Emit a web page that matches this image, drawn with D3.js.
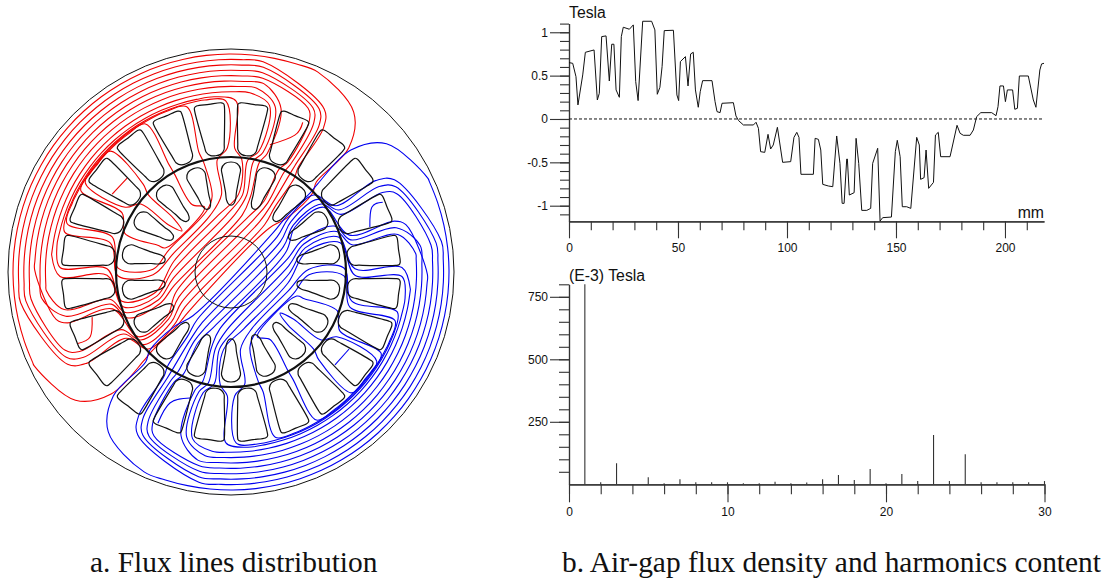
<!DOCTYPE html>
<html>
<head>
<meta charset="utf-8">
<script src="https://cdn.jsdelivr.net/npm/d3@7"></script>
<style>
  body { margin: 0; background: white; }
  svg { display: block; }
  .tick text, .lab { font-family: "Liberation Sans", Arial, sans-serif; fill: #111; }
  .cap { font-family: "Liberation Serif", "Times New Roman", serif; font-size: 29.4px; fill: #111; }
</style>
</head>
<body>
<svg id="graph" width="1114" height="580"></svg>
<script>
// air-gap flux density, mm along the gap / Tesla
const gap_mm = [0,1.7,3.2,4.1,6.3,7.5,11.5,13,13.9,15,17,18.5,19.6,20.6,21.6,23.1,24,24.9,27.7,29.5,30.6,31.7,33.8,37.9,39.4,40.5,41.7,42.7,43.7,47.9,49.5,50.3,51.1,53.4,54.6,55.8,57,58,59.3,60.2,61.3,65.6,67,67.9,69.3,70.2,75.4,76.6,77.8,80,84.6,85.8,86.9,87.9,89.8,91.3,92.5,93.7,95.6,98,101.7,103.2,104.5,105.5,106.4,112.1,112.9,114.4,115.5,116.4,119,121,122.8,124.3,125.3,126.2,127.4,127.7,128.6,130.8,131.7,132.9,134.3,136.6,138.4,139.3,141.6,142.7,143.9,147.9,149.7,150.6,151.9,152.9,154.9,156.8,159.5,160.7,161.3,162.9,163.8,165,167.2,168.1,169.4,170.5,174.8,178,179.4,180.9,184,185.5,187,188.9,193.9,195.9,196.8,197.7,199.3,200.2,201.1,203.5,204.5,205.7,206.6,210.7,213,214.2,216,216.8,217.9]
const gap_tesla = [0.65,0.642,0.488,0.162,0.508,0.769,0.796,0.219,0.296,0.95,0.958,0.438,0.862,0.862,0.335,0.25,0.95,1.058,1.035,1.085,0.431,0.212,1.127,1.127,1.027,0.285,0.365,0.604,1.019,1.023,0.277,0.212,0.662,0.719,0.381,0.75,0.769,0.335,0.135,0.315,0.442,0.442,0.2,0.085,0.073,0.181,0.188,0.035,-0.019,-0.069,-0.069,-0.038,-0.108,-0.377,-0.385,-0.177,-0.346,-0.3,-0.096,-0.5,-0.492,-0.212,-0.154,-0.212,-0.638,-0.638,-0.223,-0.235,-0.358,-0.754,-0.773,-0.781,-0.196,-0.512,-0.973,-0.973,-0.462,-0.462,-0.877,-0.85,-0.223,-0.512,-1.054,-1.054,-1.031,-0.512,-0.338,-1.177,-1.138,-1.131,-0.377,-0.246,-0.435,-1.012,-1.012,-1.031,-0.212,-0.3,-0.696,-0.677,-0.358,-0.8,-0.731,-0.185,-0.154,-0.435,-0.435,-0.073,-0.165,-0.188,-0.188,-0.127,0.027,0.073,0.073,0.038,0.142,0.381,0.381,0.2,0.335,0.335,0.112,0.123,0.496,0.496,0.219,0.135,0.565,0.635,0.642]

// harmonics, order 1..30, in E-3 Tesla
const harm_order = d3.range(1, 31)
const harm_value = [800,8,84,0,28,4,20,8,8,8,4,4,10,4,7,20,37,17,61,4,41,13,197,13,120,8,8,8,8,13]

const top_y_major = [1, 0.5, 0, -0.5, -1]
const top_x_major = [0, 50, 100, 150, 200]
const low_y_major = [750, 500, 250]
const low_x_major = [0, 10, 20, 30]

// motor section, angles clockwise from top
const stator_slots = d3.range(7.5, 360, 15)
const rotor_slots = d3.range(0, 360, 20)
const stator_shape = [[169,0],[169,12.5],[167.5,14.8],[164,15],[128,10],[122,9],[118,5],[118,-5],[122,-9],[128,-10],[164,-15],[167.5,-14.8],[169,-12.5]]
const rotor_shape = [[110,0],[108.5,-6],[103,-9.5],[96,-8.5],[80,-5.5],[72,-4.5],[67.5,-2],[67.5,2],[72,4.5],[80,5.5],[96,8.5],[103,9.5],[108.5,6]]
const stator_r = 223, rotor_r = 115, shaft_r = 36

// one row per flux line of the red half, the blue half is the same turned 180 deg
const flux_axis = 44
const flux_yoke = [218,212.6,207.2,201.8,196.4,191,185.6,180.2,176,174,173,172,171.5]
const flux_bend = [20,24,22,20,18,7,7,7,7,7,7,7,7]
const flux_chord = [3,8.7,14.4,20.1,25.8,31.5,37.2,42.9,48.6,54.3,60,64,null]
const flux_st_right = [43.5,32.7,31,29,27.3,17,15,13,1.7,-1.7,-15,-30,-45]
const flux_rt_right = [46,34,31,28,25,14.5,11.5,8.5,5.5,-7,-14,-30,-47]
const flux_st_left = [-135.5,-122.3,-120,-117.7,-107.3,-105,-102.7,-91.5,-88.5,-76.5,-73.5,-61.5,-58.5]
const flux_rt_left = [-135,-133,-130,-127,-125,-114,-111,-108,-105,-92,-88,-70,-53]

// short flux lines caught inside a slot
const red_slot_lines = [[[-56.8,142],[-47.9,140]], [[17,133],[25,151],[25.6,166]], [[-108,146],[-114.7,155],[-115,169]]]
const blue_slot_lines = [[[131.8,139.5],[123.1,141]], [[205.8,168],[205,144.5],[198,132.5]], [[72,146],[65.3,155],[65.3,167]]]

const svg = d3.select("#graph")

const mx = d3.scaleLinear().domain([-223, 223]).range([8, 454])
const my = d3.scaleLinear().domain([-223, 223]).range([495, 49])
const mr = d3.scaleLinear().domain([0, 223]).range([0, 223])

const model_line = d3.line().x(d => mx(d[0])).y(d => my(d[1]))

function polar(angle, r){
  const t = angle * Math.PI / 180
  return [r * Math.sin(t), r * Math.cos(t)]
}

function slot_path(shape, angle){
  const t = angle * Math.PI / 180
  const pts = shape.map(([r, w]) => [
    r * Math.sin(t) + w * Math.cos(t),
    r * Math.cos(t) - w * Math.sin(t)
  ])
  return model_line.curve(d3.curveCatmullRomClosed.alpha(0.5))(pts)
}

function flux_points(i, turn){
  const ry = flux_yoke[i]
  const st_r = flux_st_right[i] + turn, st_l = flux_st_left[i] + turn
  const rt_r = flux_rt_right[i] + turn, rt_l = flux_rt_left[i] + turn
  const off = flux_bend[i]
  const turn_r = st_r - off, turn_l = st_l + off
  const mid_r = 171 + (ry - 171) * (i == 0 ? 0.65 : 0.4)
  const mid_off = off * (i == 0 ? 0.3 : 0.12)

  const pts = []
  d3.range(turn_r, turn_l, -6).concat([turn_l]).forEach(a => pts.push(polar(a, ry)))

  if (i < 5) pts.push(polar(st_l + mid_off, mid_r))
  pts.push(polar(st_l, 171))
  pts.push(polar(st_l, 124))
  pts.push(polar(rt_l, 113))
  pts.push(polar(rt_l, 78))

  const d = flux_chord[i]
  if (d === null){
    pts.push(polar((rt_l + rt_r) / 2, 64))
  } else {
    const rc = Math.max(58, d + 6)
    const along = Math.sqrt(rc * rc - d * d)
    const u = polar(flux_axis + turn, 1)
    const n = polar(flux_axis - 90 + turn, 1)
    pts.push([d * n[0] - along * u[0], d * n[1] - along * u[1]])
    pts.push([d * n[0] + along * u[0], d * n[1] + along * u[1]])
  }

  pts.push(polar(rt_r, 78))
  pts.push(polar(rt_r, 113))
  pts.push(polar(st_r, 124))
  pts.push(polar(st_r, 171))
  if (i < 5) pts.push(polar(st_r - mid_off, mid_r))
  return pts
}

function draw_motor(){
  const g = svg.append("g")

  const halves = [{color: "#f00000", turn: 0, extra: red_slot_lines}, {color: "#0000f0", turn: 180, extra: blue_slot_lines}]
  halves.forEach(half => {
    g.selectAll(null)
      .data(flux_yoke.map((_, i) => flux_points(i, half.turn)))
      .enter().append("path")
      .attr("d", d => model_line.curve(d3.curveCatmullRomClosed.alpha(0.5))(d))
      .attr("fill", "none")
      .attr("stroke", half.color)
      .attr("stroke-width", 1.1)

    g.selectAll(null)
      .data(half.extra)
      .enter().append("path")
      .attr("d", d => model_line.curve(d3.curveNatural)(d.map(p => polar(p[0], p[1]))))
      .attr("fill", "none")
      .attr("stroke", half.color)
      .attr("stroke-width", 1.1)
  })

  g.selectAll(null).data(stator_slots).enter().append("path")
    .attr("d", a => slot_path(stator_shape, a))
    .attr("fill", "none").attr("stroke", "#111").attr("stroke-width", 1.2)

  g.selectAll(null).data(rotor_slots).enter().append("path")
    .attr("d", a => slot_path(rotor_shape, a))
    .attr("fill", "none").attr("stroke", "#111").attr("stroke-width", 1.2)

  const rings = [[stator_r, 1], [rotor_r, 2.2], [shaft_r, 1]]
  g.selectAll(null).data(rings).enter().append("circle")
    .attr("cx", mx(0)).attr("cy", my(0))
    .attr("r", d => mr(d[0]))
    .attr("fill", "none").attr("stroke", "#111").attr("stroke-width", d => d[1])
}

function style_axis(sel){
  sel.select(".domain").attr("stroke", "#333").attr("stroke-width", 1.2)
  sel.selectAll(".tick line").attr("stroke", "#333").attr("stroke-width", 1.1)
  sel.selectAll(".tick text").attr("font-size", 12).attr("font-family", null)
}

function add_axis(axis, x, y){
  return svg.append("g").attr("transform", `translate(${x},${y})`).call(axis).call(style_axis)
}

function draw_flux_density(){
  const x = d3.scaleLinear().domain([0, 217.9]).range([569, 1044])
  const y = d3.scaleLinear().domain([-1.18, 1.1]).range([221.3, 23.6])

  add_axis(d3.axisLeft(y).tickValues(d3.range(-11, 12).map(d => d / 10)).tickFormat("").tickSize(9).tickSizeOuter(0), 569, 0)
  add_axis(d3.axisLeft(y).tickValues(top_y_major).tickFormat(d => String(d)).tickSize(19).tickPadding(2).tickSizeOuter(0), 569, 0)
  add_axis(d3.axisBottom(x).tickValues(d3.range(0, 218, 10)).tickFormat("").tickSize(9).tickSizeOuter(0), 0, 221.3)
  add_axis(d3.axisBottom(x).tickValues(top_x_major).tickFormat(d => String(d)).tickSize(17).tickPadding(5).tickSizeOuter(0), 0, 221.3)

  svg.append("line")
    .attr("x1", x(0)).attr("x2", x(217.9))
    .attr("y1", y(0)).attr("y2", y(0))
    .attr("stroke", "#111").attr("stroke-dasharray", "3,2")

  const line = d3.line().x((d, i) => x(gap_mm[i])).y(d => y(d))
  svg.append("path")
    .attr("d", line(gap_tesla))
    .attr("fill", "none").attr("stroke", "#111").attr("stroke-width", 1)

  svg.append("text").attr("class", "lab").attr("x", 569).attr("y", 18).attr("font-size", 15.8).text("Tesla")
  svg.append("text").attr("class", "lab").attr("x", 1044).attr("y", 218).attr("font-size", 15.8).attr("text-anchor", "end").text("mm")
}

function draw_harmonics(){
  const x = d3.scaleLinear().domain([0, 30]).range([569, 1044.5])
  const y = d3.scaleLinear().domain([0, 800]).range([484.3, 284.3])

  add_axis(d3.axisLeft(y).tickValues(d3.range(50, 801, 50)).tickFormat("").tickSize(10).tickSizeOuter(0), 569, 0)
  add_axis(d3.axisLeft(y).tickValues(low_y_major).tickFormat(d => String(d)).tickSize(19).tickPadding(2).tickSizeOuter(0), 569, 0)
  add_axis(d3.axisBottom(x).tickValues(d3.range(0, 31, 2)).tickFormat("").tickSize(10).tickSizeOuter(0), 0, 484.3)
  add_axis(d3.axisBottom(x).tickValues(low_x_major).tickFormat(d => String(d)).tickSize(18).tickPadding(5).tickSizeOuter(0), 0, 484.3)

  svg.selectAll(null)
    .data(harm_value)
    .enter().append("line")
    .attr("x1", (d, i) => x(harm_order[i])).attr("x2", (d, i) => x(harm_order[i]))
    .attr("y1", y(0)).attr("y2", d => y(d))
    .attr("stroke", "#333").attr("stroke-width", 1.1)

  svg.append("text").attr("class", "lab").attr("x", 569).attr("y", 281).attr("font-size", 15.8).text("(E-3) Tesla")
}

draw_motor()
draw_flux_density()
draw_harmonics()

svg.append("text").attr("class", "cap").attr("x", 90).attr("y", 572).text("a. Flux lines distribution")
svg.append("text").attr("class", "cap").attr("x", 562).attr("y", 572).text("b. Air-gap flux density and harmonics content")
</script>
</body>
</html>
